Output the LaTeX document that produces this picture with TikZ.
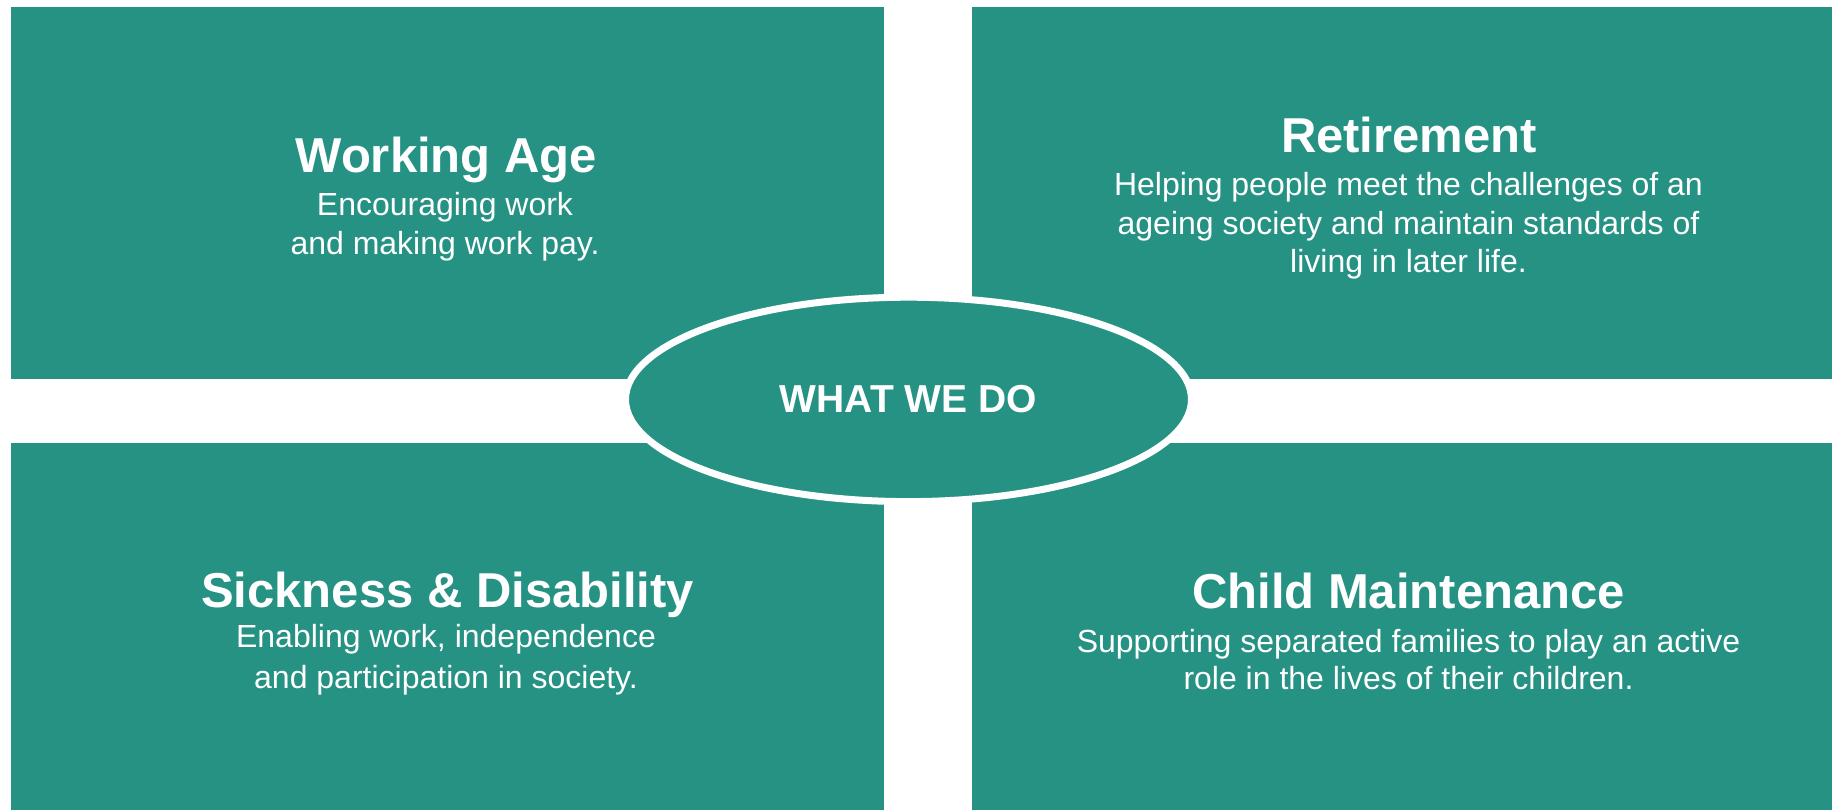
\documentclass[tikz,border=0pt]{standalone}
\usepackage{fontspec}
\setmainfont{Liberation Sans}
\usetikzlibrary{shapes.geometric}
\definecolor{dwpteal}{RGB}{37,146,132}
\tikzset{
  panel/.style={fill=dwpteal, draw=none, inner sep=0pt, outer sep=0pt, anchor=north west},
  ttl/.style={text=white, inner sep=0pt, anchor=base, font=\fontsize{49}{55}\selectfont\bfseries},
  bodytxt/.style={text=white, inner sep=0pt, anchor=base, align=center, font=\fontsize{32}{#1}\selectfont},
  bodytxt/.default=37.5,
  hub/.style={ellipse, fill=dwpteal, draw=white, line width=7pt, inner sep=0pt,
    minimum width=566pt, minimum height=204.4pt, text=white,
    font=\fontsize{39}{44}\selectfont\bfseries}
}
\begin{document}
\begin{tikzpicture}[x=1pt, y=-1pt]
\useasboundingbox (0,0) rectangle (1832,810);
\node[panel, minimum width=873pt, minimum height=372pt] (tl) at (11,7) {};
\node[panel, minimum width=860pt, minimum height=372pt] (tr) at (972,7) {};
\node[panel, minimum width=873pt, minimum height=367pt] (bl) at (11,443) {};
\node[panel, minimum width=860pt, minimum height=367pt] (br) at (972,443) {};
\node[hub] (hubnode) at (908.5,399.4) {WHAT WE DO};
\node[ttl] (tlt) at (446.3,172.7) {Working Age};
\node[bodytxt=38.5] (tlb) at (445,254.5) {Encouraging work\ \\and making work pay.};
\node[ttl] (trt) at (1409,153) {Retirement};
\node[bodytxt=38.5] (trb) at (1408.5,272.7) {Helping people meet the challenges of an\\ageing society and maintain standards of\\living in later life.};
\node[ttl] (blt) at (447.5,607) {Sickness \& Disability};
\node[bodytxt=40.5] (blb) at (446,688) {Enabling work, independence\ \\and participation in society.};
\node[ttl] (brt) at (1408.5,608.7) {Child Maintenance};
\node[bodytxt] (brb) at (1408.5,689.5) {Supporting separated families to play an active\\role in the lives of their children.};
\end{tikzpicture}
\end{document}
